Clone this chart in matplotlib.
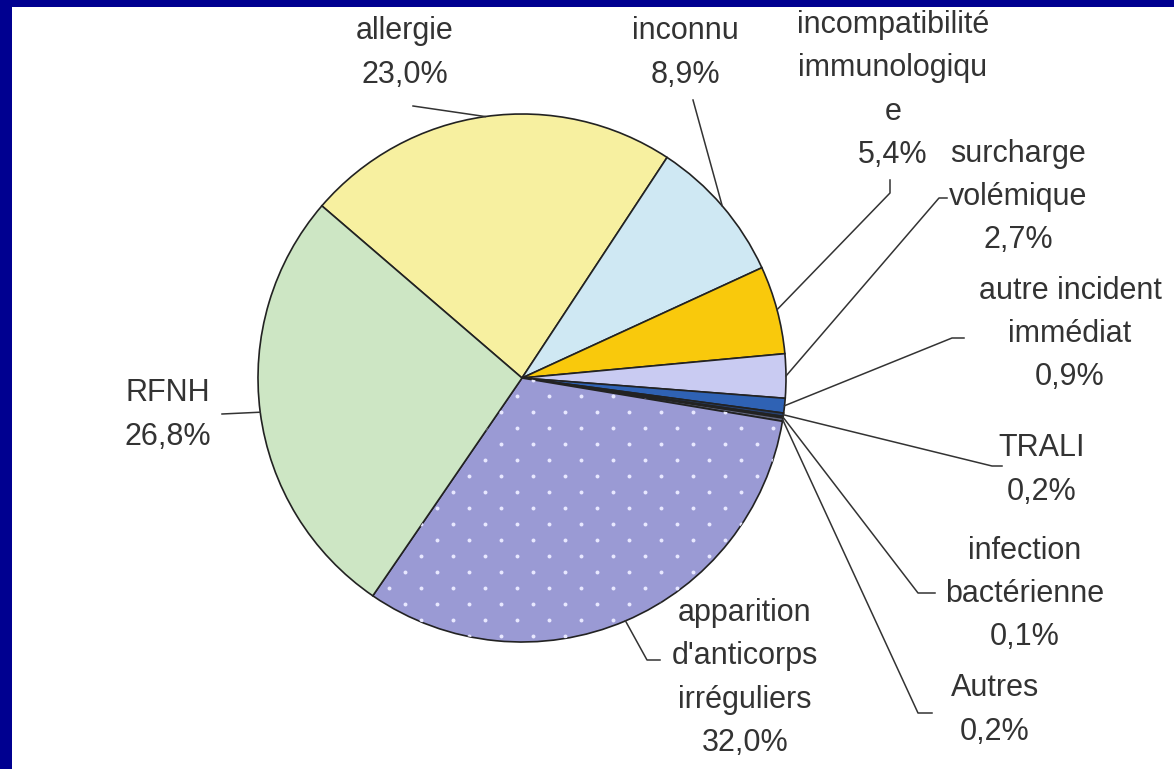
import numpy as np
import matplotlib.pyplot as plt
from matplotlib.patches import Rectangle

# Data
labels = ["allergie", "inconnu", "incompatibilité\nimmunologiqu\ne", "surcharge\nvolémique",
          "autre incident\nimmédiat", "TRALI", "infection\nbactérienne", "Autres",
          "apparition\nd'anticorps\nirréguliers", "RFNH"]
values = [23.0, 8.9, 5.4, 2.7, 0.9, 0.2, 0.1, 0.2, 32.0, 26.8]
colors = ["#F7F0A0", "#CFE8F3", "#F9C90C", "#C9CBF2", "#2F62B4",
          "#27406E", "#B07A5E", "#62667E", "#9A9AD4", "#CDE6C4"]

W, H = 1174, 769
plt.rcParams['font.family'] = ['Liberation Sans', 'DejaVu Sans']


def p(x, y):
    # image pixel -> data coords (y up)
    return x, H - y


fig = plt.figure(figsize=(W / 100, H / 100), dpi=100)
fig.patch.set_facecolor("#000090")
ax = fig.add_axes([0, 0, 1, 1])

cx, cy = p(522, 378)
R = 264
wedges, _ = ax.pie(values, colors=colors, startangle=139.3, counterclock=False,
                   center=(cx, cy), radius=R,
                   wedgeprops=dict(edgecolor="#222222", linewidth=1.2))

ax.set_xlim(0, W)
ax.set_ylim(0, H)
ax.set_aspect("equal")
ax.axis("off")
ax.add_patch(Rectangle((12, 0), W - 12, H - 7, facecolor="white", edgecolor="none", zorder=0))

# White dot texture on the "apparition" slice
gx, gy = [], []
for i, yy in enumerate(np.arange(380, 660, 16)):
    off = 0 if i % 2 == 0 else 16
    for xx in np.arange(341 + off, 800, 32):
        gx.append(xx)
        gy.append(H - yy)
dots = ax.scatter(gx, gy, s=8, color="#E8E8FF", linewidths=0, zorder=3)
dots.set_clip_path(wedges[8])

# label text positions (center x, center y, image px) and leader path (label side)
text_pos = [(405, 53), (685, 53), (893, 90), (1018, 197), (1070, 334),
            (1042, 470), (1025, 594), (995, 710), (745, 678), (168, 415)]
leaders = [[(413, 106)], [(693, 100)], [(890, 180), (890, 193)], [(947, 198), (939, 198)],
           [(964, 338), (952, 338)], [(1002, 466), (992, 466)], [(935, 593), (918, 593)],
           [(932, 713), (918, 713)], [(660, 660), (647, 660)], [(222, 414)]]

for w, lab, v, tp, lead in zip(wedges, labels, values, text_pos, leaders):
    pct = f"{v:.1f}".replace(".", ",") + "%"
    ax.text(*p(*tp), lab + "\n" + pct, ha="center", va="center", fontsize=22,
            color="#333333", linespacing=1.57, zorder=5)
    mid = np.deg2rad((w.theta1 + w.theta2) / 2)
    ex, ey = cx + R * np.cos(mid), cy + R * np.sin(mid)
    pts = [p(*q) for q in lead] + [(ex, ey)]
    ax.plot([q[0] for q in pts], [q[1] for q in pts], color="#333333", lw=1.1, zorder=4)

fig.savefig("out.png", dpi=100, facecolor=fig.get_facecolor())
